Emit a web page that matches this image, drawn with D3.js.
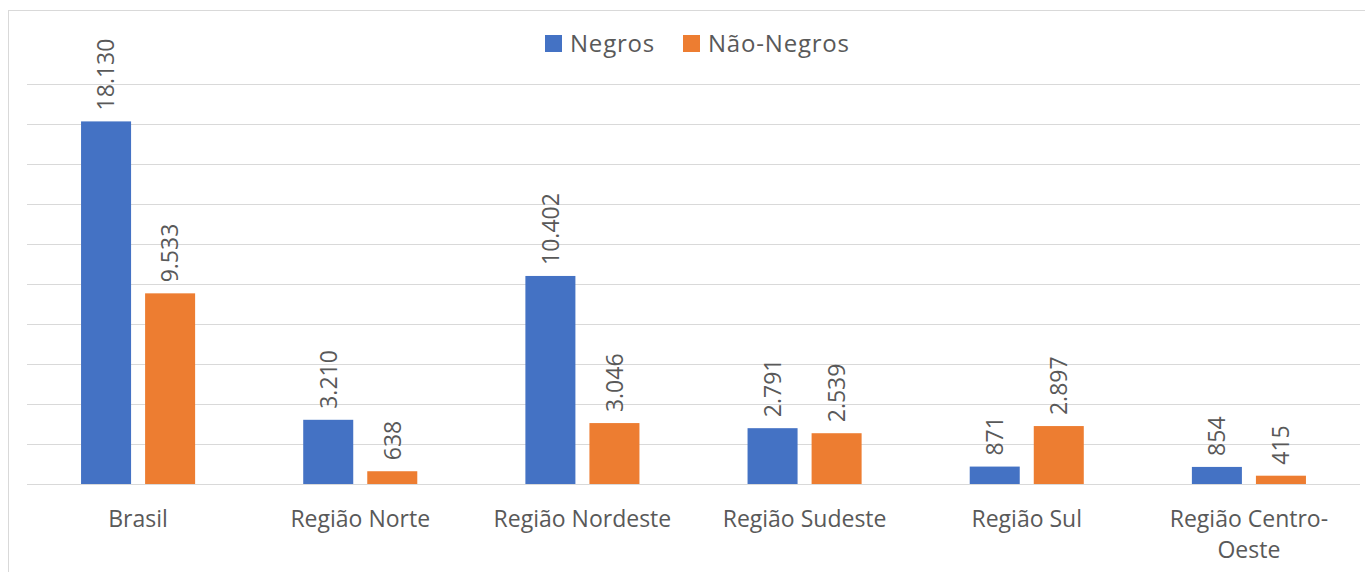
<!DOCTYPE html>
<html>
<head>
<meta charset="utf-8">
<script src="https://cdn.jsdelivr.net/npm/d3@7"></script>
<style>
  body { margin: 0; background: #fff; }
  svg text { font-family: "Open Sans", "Noto Sans", sans-serif; fill: #595959; }
</style>
</head>
<body>
<div id="chart"></div>
<script>
// regions and the two series
var regions = ["Brasil", "Região Norte", "Região Nordeste", "Região Sudeste", "Região Sul", "Região Centro-Oeste"];
var seriesNames = ["Negros", "Não-Negros"];
var negros = [18130, 3210, 10402, 2791, 871, 854];
var naoNegros = [9533, 638, 3046, 2539, 2897, 415];
var yTicks = [0, 2000, 4000, 6000, 8000, 10000, 12000, 14000, 16000, 18000, 20000];
var colors = ["#4472C4", "#ED7D31"];

var width = 1365, height = 572;
var plot = {left: 27, right: 1360, top: 84, bottom: 484};

var ptBR = d3.formatLocale({decimal: ",", thousands: ".", grouping: [3], currency: ["R$", ""]});
var fmt = ptBR.format(",d");

var svg = d3.select("#chart").append("svg")
    .attr("width", width)
    .attr("height", height);

// chart frame
svg.append("rect")
    .attr("x", 8.5).attr("y", 10.5)
    .attr("width", 1365).attr("height", 600)
    .attr("fill", "none")
    .attr("stroke", "#d9d9d9");

var x = d3.scaleBand()
    .domain(regions)
    .range([plot.left, plot.right]);

var xInner = d3.scaleBand()
    .domain(seriesNames)
    .range([0, x.bandwidth()])
    .paddingInner(0.219)
    .paddingOuter(0.844);

var y = d3.scaleLinear()
    .domain([0, 20000])
    .range([plot.bottom, plot.top]);

// gridlines
svg.append("g")
    .selectAll("line")
    .data(yTicks)
    .enter()
    .append("line")
        .attr("x1", plot.left)
        .attr("x2", plot.right)
        .attr("y1", function(d) { return Math.round(y(d)) + 0.5; })
        .attr("y2", function(d) { return Math.round(y(d)) + 0.5; })
        .attr("stroke", "#d9d9d9")
        .attr("stroke-width", 1);

var rows = regions.map(function(r, i) {
    return {region: r, values: [negros[i], naoNegros[i]]};
});

var groups = svg.append("g")
    .selectAll("g")
    .data(rows)
    .enter()
    .append("g")
        .attr("transform", function(d) { return "translate(" + x(d.region) + ",0)"; });

var bars = groups.selectAll("g.bar")
    .data(function(d) {
        return d.values.map(function(v, j) { return {name: seriesNames[j], value: v, idx: j}; });
    })
    .enter()
    .append("g")
        .attr("class", "bar");

bars.append("rect")
    .attr("x", function(d) { return xInner(d.name); })
    .attr("width", xInner.bandwidth())
    .attr("y", function(d) { return y(d.value); })
    .attr("height", function(d) { return y(0) - y(d.value); })
    .attr("fill", function(d) { return colors[d.idx]; });

// rotated value labels above the bars
bars.append("text")
    .attr("transform", function(d) {
        var cx = xInner(d.name) + xInner.bandwidth() / 2;
        return "translate(" + cx + "," + (y(d.value) - 11) + ") rotate(-90)";
    })
    .attr("dy", "0.36em")
    .attr("text-anchor", "start")
    .attr("font-size", "23px")
    .text(function(d) { return fmt(d.value); });

// category labels (wrap long ones like Excel does)
var catLabels = {
    "Região Centro-Oeste": ["Região Centro-", "Oeste"]
};
svg.append("g")
    .selectAll("text")
    .data(regions)
    .enter()
    .append("text")
        .attr("x", function(d) { return x(d) + x.bandwidth() / 2; })
        .attr("y", 527)
        .attr("text-anchor", "middle")
        .attr("font-size", "23px")
        .each(function(d) {
            var lines = catLabels[d] || [d];
            var t = d3.select(this);
            lines.forEach(function(l, k) {
                t.append("tspan")
                    .attr("x", x(d) + x.bandwidth() / 2)
                    .attr("dy", k === 0 ? 0 : 31)
                    .text(l);
            });
        });

// legend
var legendPos = [545, 683];
var legend = svg.append("g")
    .selectAll("g")
    .data(seriesNames)
    .enter()
    .append("g")
        .attr("transform", function(d, i) { return "translate(" + legendPos[i] + ",35)"; });

legend.append("rect")
    .attr("width", 17)
    .attr("height", 17)
    .attr("fill", function(d, i) { return colors[i]; });

legend.append("text")
    .attr("x", 25)
    .attr("y", 17)
    .attr("font-size", "24px")
    .attr("letter-spacing", "0.8px")
    .text(function(d) { return d; });
</script>
</body>
</html>
